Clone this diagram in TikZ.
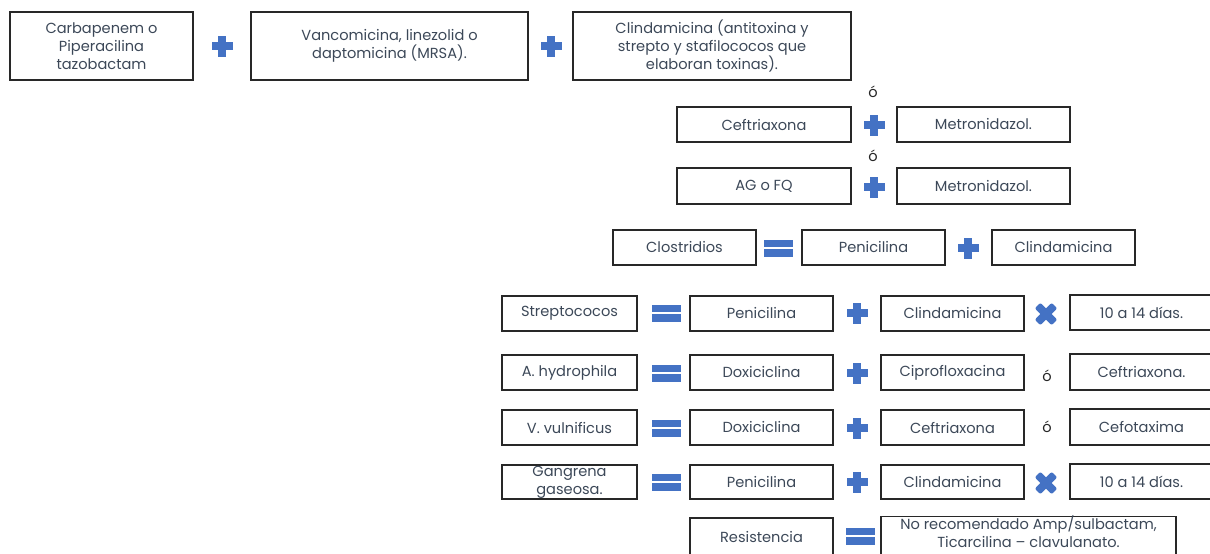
\documentclass[tikz,border=0pt]{standalone}
\usepackage{fontspec}
\setmainfont{Poppins}
\definecolor{symblue}{RGB}{68,114,196}
\definecolor{txt}{RGB}{60,72,88}
\definecolor{edge}{RGB}{40,40,40}
\tikzset{
  box/.style={draw=edge, line width=1.2pt, text=txt, align=center, inner sep=0pt,
    font=\fontsize{14.6}{18}\selectfont},
  orsym/.style={text=black!85, font=\fontsize{14.6}{16}\selectfont, inner sep=0pt},
  plus/.pic={
    \fill[symblue] (-10.5,-3.7) rectangle (10.5,3.7);
    \fill[symblue] (-3.7,-10.5) rectangle (3.7,10.5);
  },
  equal/.pic={
    \fill[symblue] (-14.5,-8.5) rectangle (14.5,-1.3);
    \fill[symblue] (-14.5,1.3) rectangle (14.5,8.5);
  },
  times/.pic={
    \begin{scope}[rotate=45]
      \fill[symblue, rounded corners=2pt] (-12,-4) rectangle (12,4);
      \fill[symblue, rounded corners=2pt] (-4,-12) rectangle (4,12);
    \end{scope}
  }
}
% box from its two corners: [options], name, x1, y1, x2, y2, text
\newcommand{\bx}[7][]{%
  \pgfmathsetmacro{\bw}{#5-#3}\pgfmathsetmacro{\bh}{#6-#4}%
  \pgfmathsetmacro{\cx}{(#3+#5)/2}\pgfmathsetmacro{\cy}{(#4+#6)/2}%
  \node[box, minimum width=\bw pt, minimum height=\bh pt, #1] (#2) at (\cx,\cy) {#7};}
\begin{document}
\begin{tikzpicture}[x=1pt,y=-1pt]
\useasboundingbox (0,0) rectangle (1210,554);
\begin{scope}
\clip (0,0) rectangle (1210,554);

% first combination
\bx{carba}{10}{12}{193}{80}{Carbapenem o\\Piperacilina\\tazobactam}
\pic at (222,46) {plus};
\bx{vanco}{251}{12}{528}{80}{Vancomicina, linezolid o\\daptomicina (MRSA).}
\pic at (551,46) {plus};
\bx{clinda}{573}{12}{851}{80}{Clindamicina (antitoxina y\\strepto y stafilococos que\\elaboran toxinas).}

% alternatives
\node[orsym] (o1) at (873,92) {ó};
\bx{ceft}{677}{107}{851}{142}{Ceftriaxona}
\pic at (874,125) {plus};
\bx{metro}{897}{107}{1070}{142}{Metronidazol.}
\node[orsym] (o2) at (873,156) {ó};
\bx{agfq}{677}{168}{851}{204}{AG o FQ}
\pic at (874,187) {plus};
\bx{metrob}{897}{168}{1070}{204}{Metronidazol.}

% clostridios
\bx{clos}{613}{230}{756}{265}{Clostridios}
\pic at (778,248) {equal};
\bx{penc}{802}{230}{945}{265}{Penicilina}
\pic at (968,248) {plus};
\bx{clinc}{992}{230}{1135}{265}{Clindamicina}

% streptococos
\bx{strep}{502}{296}{637}{331}{Streptococos}
\pic at (666,313) {equal};
\bx{pens}{690}{296}{833}{331}{Penicilina}
\pic at (857,313) {plus};
\bx{clins}{881}{296}{1024}{331}{Clindamicina}
\pic at (1046,314) {times};
\bx{dias}{1070}{295}{1213}{330}{10 a 14 días.}

% aeromonas
\bx{aero}{502}{355}{637}{390}{A. hydrophila}
\pic at (666,373) {equal};
\bx{doxa}{690}{355}{833}{390}{Doxiciclina}
\pic at (857,373) {plus};
\bx{cipro}{881}{355}{1024}{390}{Ciprofloxacina}
\node[orsym] (o3) at (1047,376) {ó};
\bx{ceftb}{1070}{354}{1213}{390}{Ceftriaxona.}

% vibrio
\bx{vib}{502}{410}{637}{445}{V. vulnificus}
\pic at (666,428) {equal};
\bx{doxb}{690}{410}{833}{445}{Doxiciclina}
\pic at (857,428) {plus};
\bx{ceftc}{881}{410}{1024}{445}{Ceftriaxona}
\node[orsym] (o4) at (1047,427) {ó};
\bx{cefo}{1070}{409}{1213}{445}{Cefotaxima}

% gangrena
\bx{gang}{502}{465}{637}{499}{Gangrena\\gaseosa.}
\pic at (666,482) {equal};
\bx{peng}{690}{465}{833}{499}{Penicilina}
\pic at (857,482) {plus};
\bx{cling}{881}{465}{1024}{499}{Clindamicina}
\pic at (1046,483) {times};
\bx{diasb}{1070}{464}{1213}{499}{10 a 14 días.}

% resistencia
\bx{res}{690}{518}{833}{557}{Resistencia}
\pic at (860,536) {equal};
\bx[text depth=11pt]{norec}{881}{518}{1176}{557}{No recomendado Amp/sulbactam,\\Ticarcilina – clavulanato.}
\end{scope}
\end{tikzpicture}
\end{document}
